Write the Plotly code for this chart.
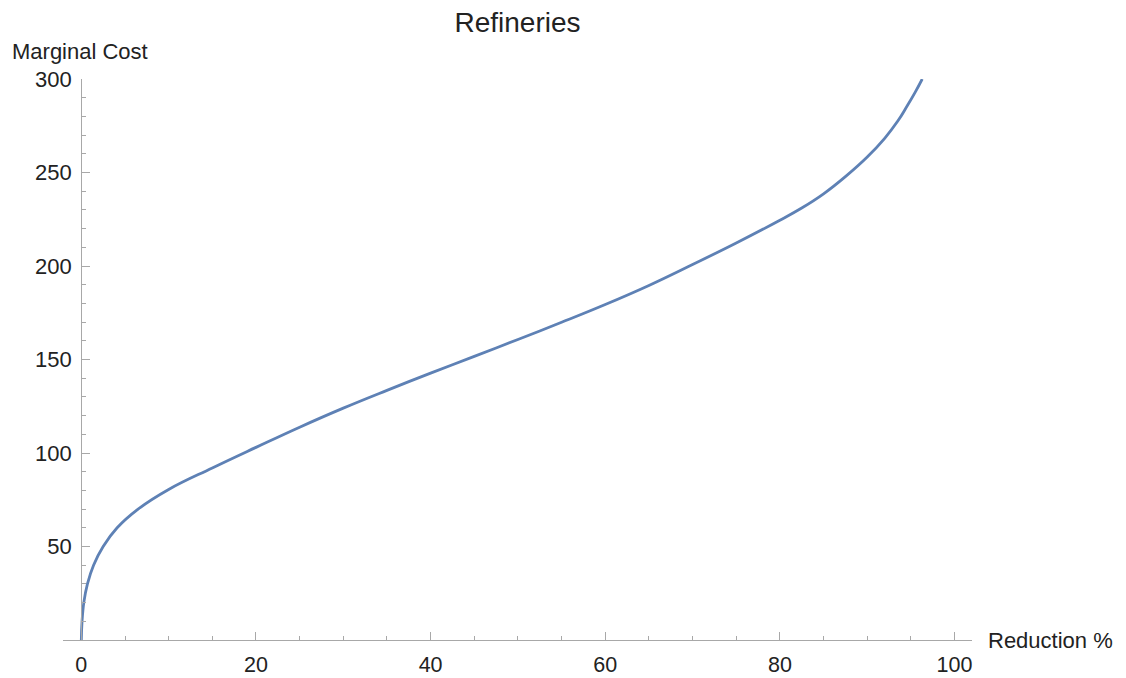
import plotly.graph_objects as go

# Data
reduction_pct = [0, 0.08, 0.3, 0.7, 1.4, 2.5, 4.1, 6.5, 10, 15, 20, 25,
                 30, 35, 40, 45, 50, 55, 60, 65, 70, 75, 80, 82.5, 85, 87.5,
                 90, 92, 93.5, 94.5, 95.5, 96.3]
marginal_cost = [0, 10, 20.5, 30, 40, 50, 60, 70, 80.5, 92, 103, 113.8,
                 124, 133.5, 142.7, 151.7, 160.7, 169.9, 179.4, 189.6, 200.8, 212.3, 224.5, 231, 238.6, 247.8,
                 258.3, 268.3, 277.5, 285, 293, 300]
x_ticks = [0, 20, 40, 60, 80, 100]
y_ticks = [50, 100, 150, 200, 250, 300]

title_text = "Refineries"
x_label = "Reduction %"
y_label = "Marginal Cost"

FONT = "Liberation Sans, Arial, sans-serif"
AXIS_COLOR = "#a8a8a8"
TEXT_COLOR = "#222222"
LINE_COLOR = "#5E81B5"

x_range = [-2.1, 102.0]
y_range = [0, 300]

# page body adds an 8px offset; figure coordinates = screen coordinates - 8
OFF = 8
W, H = 1126 - OFF, 678 - OFF
L, T = 63 - OFF, 79 - OFF
R = W - (971.7 - OFF)
B = H - (640.2 - OFF)
PW, PH = W - L - R, H - T - B

fig = go.Figure()
fig.add_trace(go.Scatter(
    x=reduction_pct, y=marginal_cost, mode="lines",
    line=dict(color=LINE_COLOR, width=2.8, shape="spline", smoothing=1.2),
    hoverinfo="x+y", showlegend=False, cliponaxis=True,
))

yaxis_pos = (0 - x_range[0]) / (x_range[1] - x_range[0])

fig.update_layout(
    width=W, height=H,
    margin=dict(l=L, r=R, t=T, b=B, autoexpand=False),
    paper_bgcolor="white", plot_bgcolor="white",
    font=dict(family=FONT, color=TEXT_COLOR, size=21),
    title=dict(text=title_text, x=0.5, xref="paper", xanchor="center",
               y=1 - 14 / H, yref="container", yanchor="middle",
               font=dict(size=28, family=FONT, color=TEXT_COLOR)),
    xaxis=dict(
        range=x_range, showgrid=False, zeroline=False, automargin=False,
        showline=True, linecolor=AXIS_COLOR, linewidth=1.2,
        tickmode="array", tickvals=x_ticks, ticktext=[str(v) for v in x_ticks],
        ticks="inside", ticklen=8, tickcolor=AXIS_COLOR, tickwidth=1.2,
        tickfont=dict(size=21.5, family=FONT, color=TEXT_COLOR),
        minor=dict(tickmode="linear", tick0=0, dtick=5, ticks="inside",
                   ticklen=4, tickcolor=AXIS_COLOR, tickwidth=1, showgrid=False),
        ticklabelstandoff=5,
    ),
    yaxis=dict(
        range=y_range, showgrid=False, zeroline=False, automargin=False,
        anchor="free", position=yaxis_pos,
        showline=True, linecolor=AXIS_COLOR, linewidth=1.2,
        tickmode="array", tickvals=y_ticks, ticktext=[str(v) for v in y_ticks],
        ticks="inside", ticklen=8, tickcolor=AXIS_COLOR, tickwidth=1.2,
        tickfont=dict(size=22, family=FONT, color=TEXT_COLOR),
        minor=dict(tickmode="linear", tick0=0, dtick=10, ticks="inside",
                   ticklen=4, tickcolor=AXIS_COLOR, tickwidth=1, showgrid=False),
        ticklabelstandoff=5,
    ),
    annotations=[
        dict(text=y_label, xref="paper", yref="paper",
             x=(12 - OFF - 2 - L) / PW, y=(H - B - (51 - OFF)) / PH,
             xanchor="left", yanchor="middle", showarrow=False,
             font=dict(size=22, family=FONT, color=TEXT_COLOR)),
        dict(text=x_label, xref="paper", yref="paper",
             x=(989 - OFF - 3 - L) / PW, y=(H - B - (641 - OFF)) / PH,
             xanchor="left", yanchor="middle", showarrow=False,
             font=dict(size=22, family=FONT, color=TEXT_COLOR)),
    ],
)

fig.write_html("out.html")
